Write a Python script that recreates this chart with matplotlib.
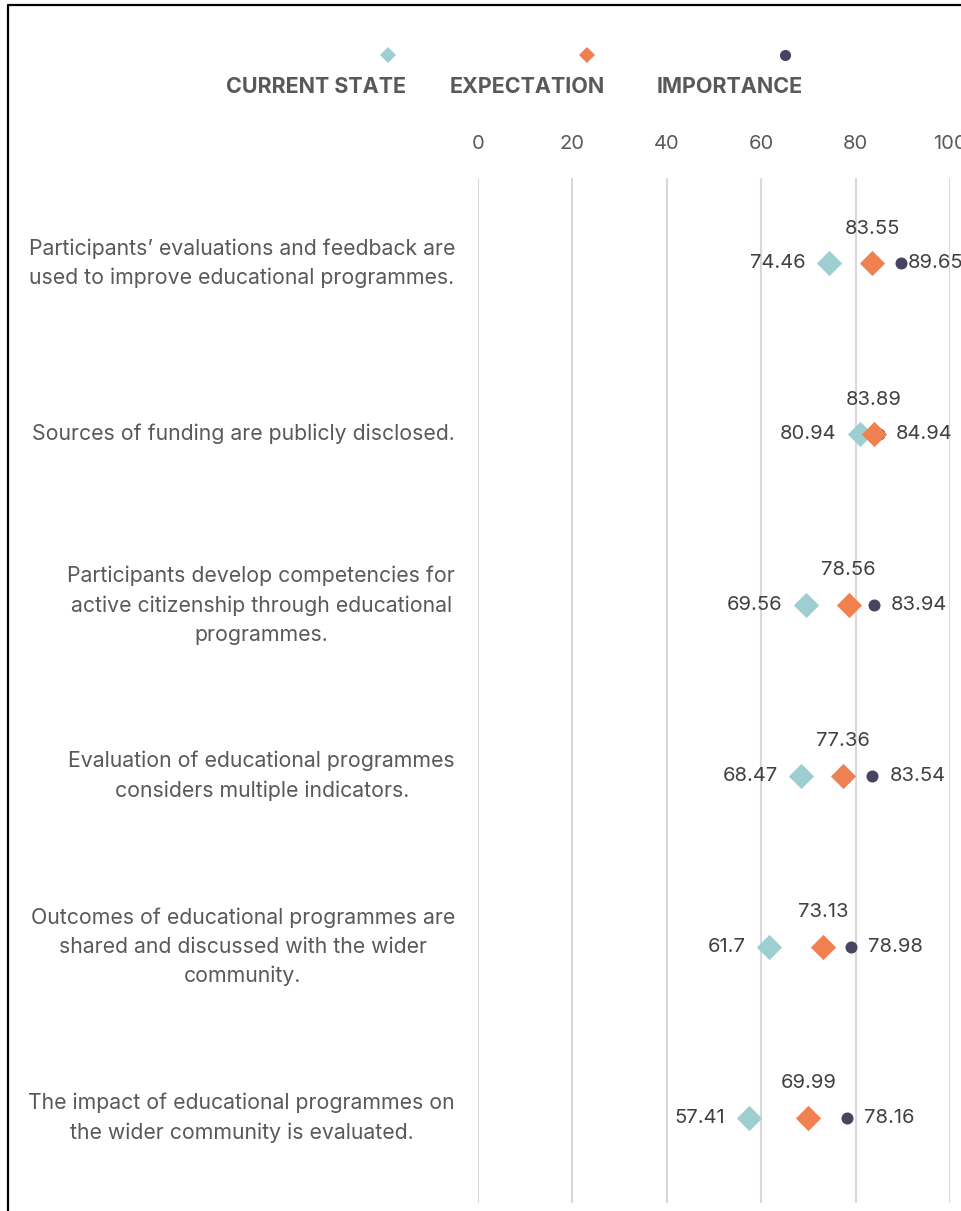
import matplotlib
matplotlib.use("Agg")
import matplotlib.pyplot as plt
from matplotlib.lines import Line2D
import matplotlib.transforms as mtransforms

categories = [
    "Participants\u2019 evaluations and feedback are\nused to improve educational programmes.",
    "Sources of funding are publicly disclosed.",
    "Participants develop competencies for\nactive citizenship through educational\nprogrammes.",
    "Evaluation of educational programmes\nconsiders multiple indicators.",
    "Outcomes of educational programmes are\nshared and discussed with the wider\ncommunity.",
    "The impact of educational programmes on\nthe wider community is evaluated.",
]
current_state = [74.46, 80.94, 69.56, 68.47, 61.7, 57.41]
expectation = [83.55, 83.89, 78.56, 77.36, 73.13, 69.99]
importance = [89.65, 84.94, 83.94, 83.54, 78.98, 78.16]
series_names = ["CURRENT STATE", "EXPECTATION", "IMPORTANCE"]
xticks = [0, 20, 40, 60, 80, 100]

C_CS = "#9DCFD1"
C_EX = "#F0804F"
C_IM = "#4A4261"
TXT = "#595959"
LBL = "#404040"

plt.rcParams['font.family'] = ['Inter', 'DejaVu Sans']

W, H = 962, 1211
fig = plt.figure(figsize=(W / 100, H / 100), dpi=100)

def fx(px):
    return px / W

def fy(py):
    return 1 - py / H

ax = fig.add_axes([fx(478), fy(1203), fx(950) - fx(478), fy(178) - fy(1203)])
ax.set_xlim(0, 100)
n = len(categories)
ax.set_ylim(n - 0.5, -0.5)
for s in ax.spines.values():
    s.set_visible(False)
ax.set_xticks(xticks)
ax.xaxis.tick_top()
ax.tick_params(axis='x', length=0, pad=18, labelsize=14.5, labelcolor=TXT)
ax.set_yticks([])
ax.grid(axis='x', color='#D9D9D9', linewidth=1.5)
ax.set_axisbelow(True)

ys = list(range(n))
ax.scatter(current_state, ys, marker='D', s=165, color=C_CS, zorder=3, clip_on=False, linewidths=0)
ax.scatter(importance, ys, marker='o', s=75, color=C_IM, zorder=3, clip_on=False, linewidths=0)
ax.scatter(expectation, ys, marker='D', s=165, color=C_EX, zorder=4, clip_on=False, linewidths=0)

fs_lbl = 14.5
for i in range(n):
    ax.annotate(f"{current_state[i]:g}", (current_state[i], i), xytext=(-17, 0),
                textcoords='offset points', ha='right', va='center', fontsize=fs_lbl, color=LBL)
    xim = min(importance[i] + 17 / 4.72, 91.1)
    ax.annotate(f"{importance[i]:g}", (xim, i), xytext=(0, 0),
                textcoords='offset points', ha='left', va='center', fontsize=fs_lbl, color=LBL)
    ax.annotate(f"{expectation[i]:g}", (expectation[i], i), xytext=(0, 25),
                textcoords='offset points', ha='center', va='center', fontsize=fs_lbl, color=LBL)

trans = mtransforms.blended_transform_factory(fig.transFigure, ax.transData)
for i, cat in enumerate(categories):
    ax.text(fx(455), i, cat, transform=trans, fontsize=15.3, color=TXT,
            ha='right', va='center', multialignment='center', linespacing=1.55)

# legend
leg_marker_x = [388, 587, 785]
leg_label_cx = [316, 527, 730]
leg_markers = ['D', 'D', 'o']
leg_colors = [C_CS, C_EX, C_IM]
for name, mx, lx, mk, c in zip(series_names, leg_marker_x, leg_label_cx, leg_markers, leg_colors):
    fig.add_artist(Line2D([fx(mx)], [fy(55)], marker=mk, markersize=8, color=c,
                          linestyle='none', markeredgewidth=0, transform=fig.transFigure))
    fig.text(fx(lx), fy(87), name, ha='center', va='center', fontsize=15.5,
             fontweight='bold', color=TXT)

# border
fig.add_artist(Line2D([fx(8), fx(8), 1.0], [0.0, fy(5), fy(5)], color='black',
                      linewidth=1.6, transform=fig.transFigure))

fig.savefig("out.png", dpi=100, facecolor='white')
